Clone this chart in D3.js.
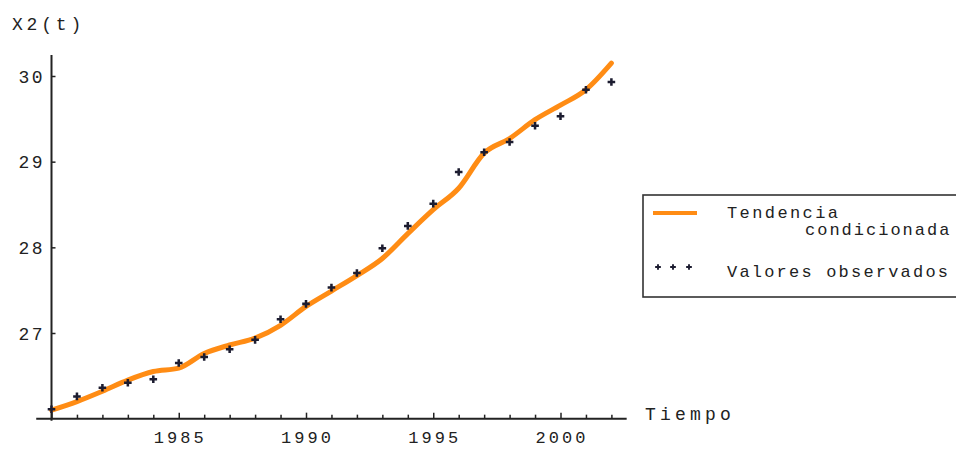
<!DOCTYPE html>
<html>
<head>
<meta charset="utf-8">
<script src="https://cdn.jsdelivr.net/npm/d3@7"></script>
<style>
  html, body { margin: 0; padding: 0; background: #fff; }
  svg { display: block; }
  text { font-family: "Liberation Mono", "DejaVu Sans Mono", monospace; fill: #222; }
</style>
</head>
<body>
<svg id="chart" width="956" height="449"></svg>
<script>
// Years of the sample
const years = d3.range(1980, 2003);

// Conditioned trend of X2(t)
const trend = [26.10, 26.20, 26.32, 26.45, 26.55, 26.59, 26.76, 26.86, 26.94, 27.09,
               27.31, 27.49, 27.67, 27.87, 28.16, 28.44, 28.69, 29.10, 29.27, 29.49,
               29.66, 29.84, 30.15];

// Observed values of X2(t)
const observed = [26.11, 26.26, 26.36, 26.42, 26.46, 26.65, 26.72, 26.81, 26.92, 27.16,
                  27.34, 27.53, 27.70, 27.99, 28.25, 28.51, 28.88, 29.11, 29.23, 29.42,
                  29.53, 29.84, 29.93];

const xTickLabels = [1985, 1990, 1995, 2000];
const yTickLabels = [27, 28, 29, 30];
const seriesNames = ["Tendencia", "condicionada", "Valores observados"];

const svg = d3.select("#chart");

const x = d3.scaleLinear().domain([1980, 2002]).range([51.5, 611.4]);
const y = d3.scaleLinear().domain([27, 30]).range([333, 76]);

const axisY0 = y(26);           // level where the time axis sits
const xStart = x(1979.4), xEnd = x(2002.6);
const yTop = y(30.245);

const ink = "#222";

// Axis lines
svg.append("line")
  .attr("x1", xStart).attr("x2", xEnd)
  .attr("y1", axisY0).attr("y2", axisY0)
  .attr("stroke", ink).attr("stroke-width", 2);
svg.append("line")
  .attr("x1", x(1980)).attr("x2", x(1980))
  .attr("y1", yTop).attr("y2", axisY0 + 2)
  .attr("stroke", ink).attr("stroke-width", 2);

// Time axis ticks (inward) and labels
const gx = svg.append("g").attr("transform", `translate(0,${axisY0})`)
  .call(d3.axisBottom(x).tickValues(years).tickSize(-4).tickFormat(""));
gx.select(".domain").remove();
gx.selectAll(".tick line")
  .attr("stroke", ink).attr("stroke-width", 1.5)
  .attr("y2", d => d % 5 === 0 ? -6 : -4);

svg.append("g").selectAll("text").data(xTickLabels).join("text")
  .attr("x", d => x(d)).attr("y", 443)
  .attr("text-anchor", "middle")
  .attr("font-size", 17).attr("letter-spacing", 3)
  .attr("dx", 1.5)
  .text(d => d);

// Value axis ticks (inward) and labels
const gy = svg.append("g").attr("transform", `translate(${x(1980)},0)`)
  .call(d3.axisLeft(y).tickValues(yTickLabels).tickSize(-4).tickFormat(""));
gy.select(".domain").remove();
gy.selectAll(".tick line").attr("stroke", ink).attr("stroke-width", 1.5);

svg.append("g").selectAll("text").data(yTickLabels).join("text")
  .attr("x", 45).attr("y", d => y(d) + 6.5)
  .attr("text-anchor", "end")
  .attr("font-size", 18).attr("letter-spacing", 2.5)
  .text(d => d);

// Axis titles
svg.append("text").attr("x", 12).attr("y", 30)
  .attr("font-size", 18).attr("letter-spacing", 3.8)
  .text("X2(t)");
svg.append("text").attr("x", 645).attr("y", 420)
  .attr("font-size", 18).attr("letter-spacing", 4.2)
  .text("Tiempo");

// Trend line
const orange = "#ff8c14";
const line = d3.line()
  .x((d, i) => x(years[i]))
  .y(d => y(d))
  .curve(d3.curveMonotoneX);
svg.append("path")
  .datum(trend)
  .attr("d", line)
  .attr("fill", "none")
  .attr("stroke", orange)
  .attr("stroke-width", 5)
  .attr("stroke-linejoin", "round")
  .attr("stroke-linecap", "round");

// Observed points
const cross = d3.symbol().type(d3.symbolCross).size(32);
svg.append("g").selectAll("path").data(observed).join("path")
  .attr("transform", (d, i) => `translate(${x(years[i])},${y(d)})`)
  .attr("d", cross)
  .attr("fill", "#1c1c30");

// Legend
const lg = svg.append("g");
lg.append("rect")
  .attr("x", 643).attr("y", 195).attr("width", 330).attr("height", 102)
  .attr("fill", "none").attr("stroke", "#333").attr("stroke-width", 1.6);
lg.append("line")
  .attr("x1", 653).attr("x2", 697).attr("y1", 213).attr("y2", 213)
  .attr("stroke", orange).attr("stroke-width", 4);
const smallCross = d3.symbol().type(d3.symbolCross).size(18);
lg.selectAll("path.k").data([658, 673, 689]).join("path")
  .attr("class", "k")
  .attr("transform", d => `translate(${d},267)`)
  .attr("d", smallCross)
  .attr("fill", "#1c1c30");
lg.append("text").attr("x", 727).attr("y", 218)
  .attr("font-size", 17).attr("letter-spacing", 2.4).text(seriesNames[0]);
lg.append("text").attr("x", 805).attr("y", 235)
  .attr("font-size", 17).attr("letter-spacing", 2.0).text(seriesNames[1]);
lg.append("text").attr("x", 727).attr("y", 277)
  .attr("font-size", 17).attr("letter-spacing", 2.2).text(seriesNames[2]);
</script>
</body>
</html>
